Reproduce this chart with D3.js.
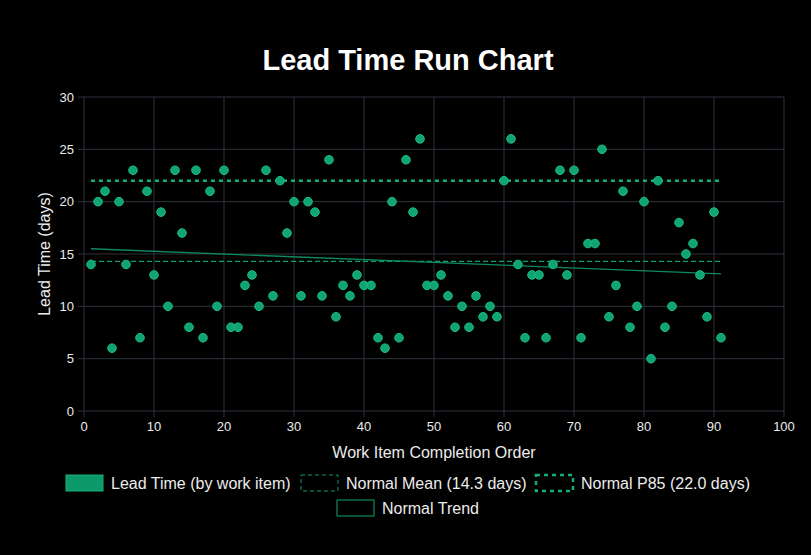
<!DOCTYPE html>
<html>
  <head>
    <meta charset="utf-8">
    <title>Lead Time Run Chart</title>
    <script src="https://d3js.org/d3.v7.min.js"></script>
    <style>
      body { margin: 0; background: #000; }
      text { font-family: "Liberation Sans", Arial, sans-serif; }
    </style>
  </head>

  <body>
    <script>
      // lead time (days) for each work item, in completion order 1..91
      var leadTimes = [14, 20, 21, 6, 20, 14, 23, 7, 21, 13,
                       19, 10, 23, 17, 8, 23, 7, 21, 10, 23,
                       8, 8, 12, 13, 10, 23, 11, 22, 17, 20,
                       11, 20, 19, 11, 24, 9, 12, 11, 13, 12,
                       12, 7, 6, 20, 7, 24, 19, 26, 12, 12,
                       13, 11, 8, 10, 8, 11, 9, 10, 9, 22,
                       26, 14, 7, 13, 13, 7, 14, 23, 13, 23,
                       7, 16, 16, 25, 9, 12, 21, 8, 10, 20,
                       5, 22, 8, 10, 18, 15, 16, 13, 9, 19, 7];
      var meanValue = 14.3;
      var p85Value = 22.0;
      var trendX = [1, 91];
      var trendY = [15.5, 13.1];
      var xTicks = [0, 10, 20, 30, 40, 50, 60, 70, 80, 90, 100];
      var yTicks = [0, 5, 10, 15, 20, 25, 30];
      var legendLabels = ["Lead Time (by work item)", "Normal Mean (14.3 days)",
                          "Normal P85 (22.0 days)", "Normal Trend"];

      var width = 811, height = 555;
      var plotLeft = 84, plotRight = 784, plotTop = 97, plotBottom = 411;

      var points = leadTimes.map((v, i) => ({x: i + 1, y: v}));

      var svg = d3.select("body").append("svg")
          .attr("width", width)
          .attr("height", height)
          .style("background", "#000");

      var x = d3.scaleLinear().domain([0, 100]).range([plotLeft, plotRight]);
      var y = d3.scaleLinear().domain([0, 30]).range([plotBottom, plotTop]);

      var gridColor = "#2e323c";
      var textColor = "#ececec";

      // grid
      svg.append("g").selectAll("line").data(xTicks).enter().append("line")
          .attr("x1", d => x(d)).attr("x2", d => x(d))
          .attr("y1", plotTop).attr("y2", plotBottom + 6)
          .style("stroke", gridColor).style("stroke-width", 1);
      svg.append("g").selectAll("line").data(yTicks).enter().append("line")
          .attr("x1", plotLeft - 6).attr("x2", plotRight)
          .attr("y1", d => y(d)).attr("y2", d => y(d))
          .style("stroke", gridColor).style("stroke-width", 1);

      // tick labels
      svg.append("g").selectAll("text").data(xTicks).enter().append("text")
          .attr("x", d => x(d)).attr("y", plotBottom + 20)
          .attr("text-anchor", "middle")
          .style("fill", textColor).style("font-size", "13px")
          .text(d => d);
      svg.append("g").selectAll("text").data(yTicks).enter().append("text")
          .attr("x", plotLeft - 10).attr("y", d => y(d) + 4.5)
          .attr("text-anchor", "end")
          .style("fill", textColor).style("font-size", "13px")
          .text(d => d);

      // reference lines
      svg.append("line")
          .attr("x1", x(1)).attr("x2", x(91))
          .attr("y1", y(meanValue)).attr("y2", y(meanValue))
          .style("stroke", "#10a070").style("stroke-width", 1.3)
          .style("stroke-dasharray", "5,3");
      svg.append("line")
          .attr("x1", x(1)).attr("x2", x(91))
          .attr("y1", y(p85Value)).attr("y2", y(p85Value))
          .style("stroke", "#12ad7a").style("stroke-width", 2.5)
          .style("stroke-dasharray", "4,4");
      svg.append("line")
          .attr("x1", x(trendX[0])).attr("x2", x(trendX[1]))
          .attr("y1", y(trendY[0])).attr("y2", y(trendY[1]))
          .style("stroke", "#0e8a60").style("stroke-width", 1.3);

      // points
      svg.append("g").selectAll("circle").data(points).enter().append("circle")
          .attr("cx", d => x(d.x))
          .attr("cy", d => y(d.y))
          .attr("r", 4.3)
          .style("fill", "#10a474")
          .style("stroke", "#1cbd88")
          .style("stroke-width", 1);

      // title and axis titles
      svg.append("text")
          .attr("x", 408).attr("y", 70)
          .attr("text-anchor", "middle")
          .style("fill", "#fff").style("font-size", "29px").style("font-weight", "bold")
          .text("Lead Time Run Chart");
      svg.append("text")
          .attr("x", (plotLeft + plotRight) / 2).attr("y", 458)
          .attr("text-anchor", "middle")
          .style("fill", textColor).style("font-size", "16px")
          .text("Work Item Completion Order");
      svg.append("text")
          .attr("transform", "translate(50," + (plotTop + plotBottom) / 2 + ") rotate(-90)")
          .attr("text-anchor", "middle")
          .style("fill", textColor).style("font-size", "16px")
          .text("Lead Time (days)");

      // legend
      var legendPos = [[66, 475], [301, 475], [536, 475], [337, 500]];
      var legendStyle = [
        {fill: "#0c9a6a", stroke: "#14b07c", width: 1, dash: null},
        {fill: "none", stroke: "#0f9a6b", width: 1, dash: "4,3"},
        {fill: "none", stroke: "#12ad7a", width: 2.5, dash: "4,4"},
        {fill: "none", stroke: "#0e8a60", width: 1.2, dash: null}
      ];
      var lg = svg.append("g").selectAll("g").data(legendLabels).enter().append("g")
          .attr("transform", (d, i) => "translate(" + legendPos[i][0] + "," + legendPos[i][1] + ")");
      lg.append("rect")
          .attr("x", 0).attr("y", 0).attr("width", 37).attr("height", 16)
          .style("fill", (d, i) => legendStyle[i].fill)
          .style("stroke", (d, i) => legendStyle[i].stroke)
          .style("stroke-width", (d, i) => legendStyle[i].width)
          .style("stroke-dasharray", (d, i) => legendStyle[i].dash);
      lg.append("text")
          .attr("x", 45).attr("y", 14)
          .style("fill", textColor).style("font-size", "16px")
          .text(d => d);
    </script>
  </body>
</html>
